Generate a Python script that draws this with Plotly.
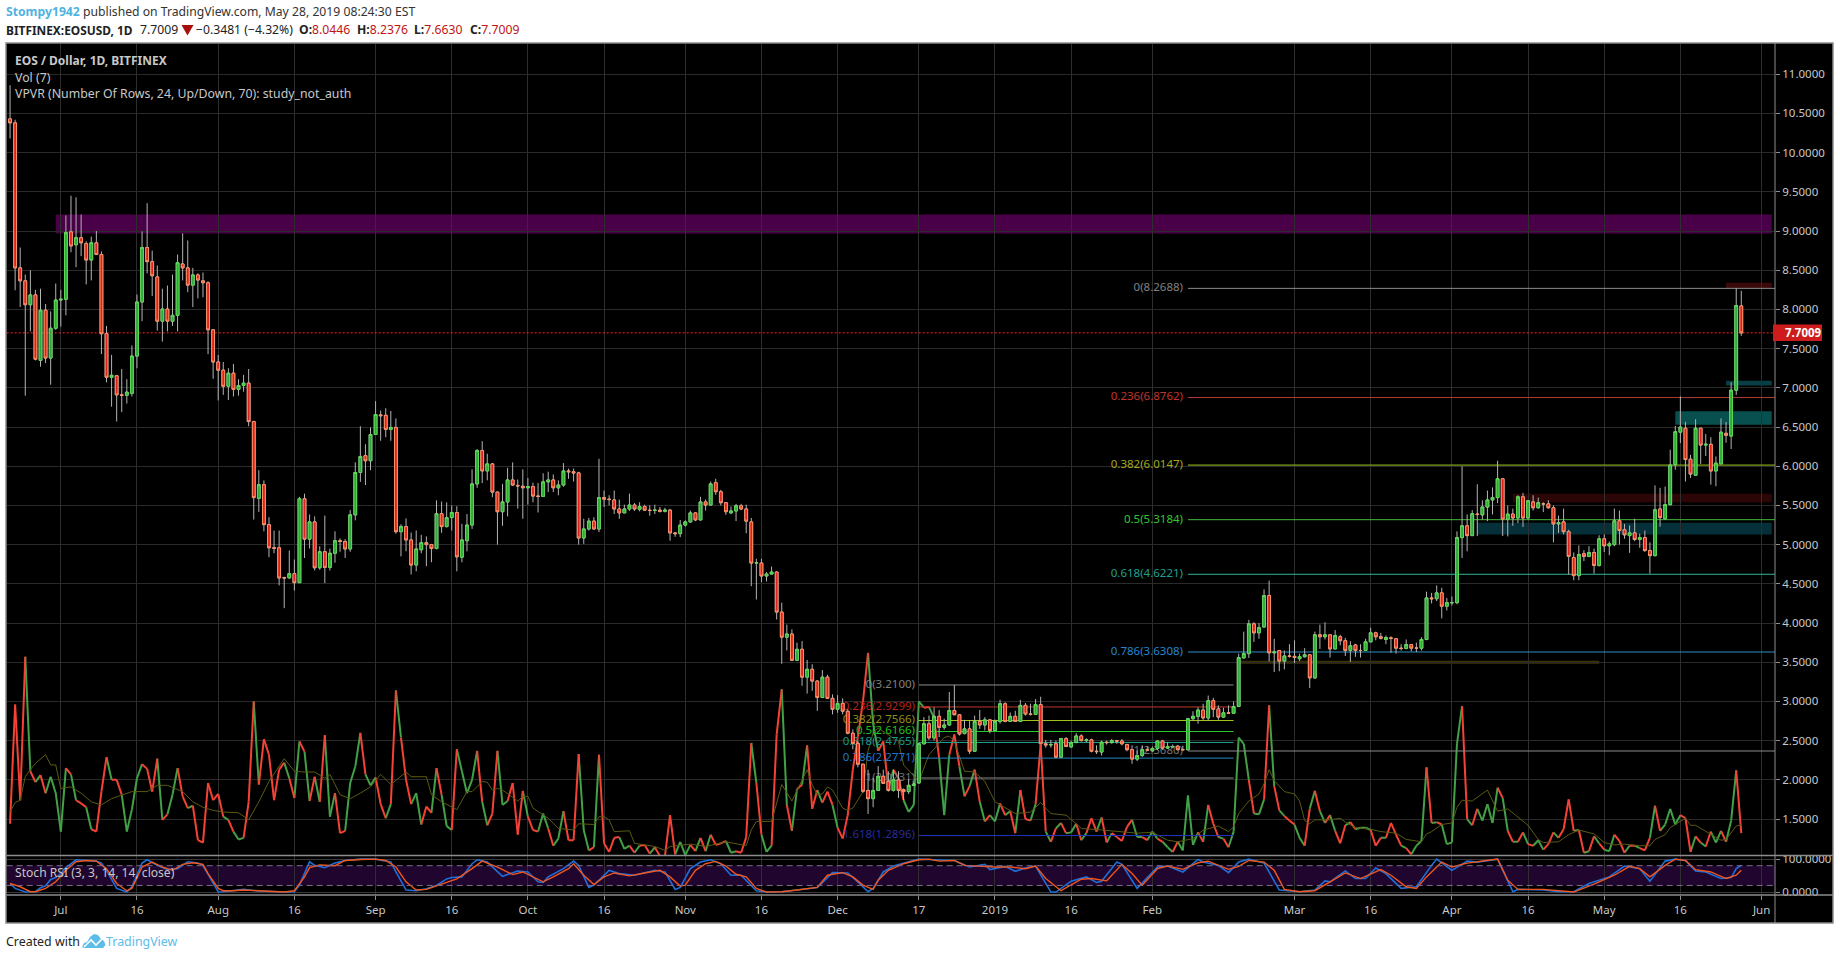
import pandas as pd
import plotly.graph_objects as go

# EOSUSD daily bars on Bitfinex, first bar 2018-06-21
first_bar = "2018-06-21"

opens = [
    10.43, 10.38, 8.53, 8.365, 8.06, 8.185, 7.35, 7.99, 7.38, 7.76,
    8.12, 8.13, 8.99, 8.825, 8.915, 8.84, 8.63, 8.85, 8.70, 7.69,
    7.135, 7.155, 6.91, 6.905, 6.93, 7.405, 8.095, 8.79, 8.61, 8.415,
    7.85, 8.005, 7.85, 7.925, 8.58, 8.53, 8.31, 8.44, 8.365, 8.34,
    7.74, 7.33, 7.225, 7.02, 7.187, 6.98, 7.03, 7.06, 6.57, 5.59,
    5.765, 5.255, 4.96, 4.96, 4.58, 4.575, 4.63, 4.515, 5.585, 5.07,
    5.29, 4.705, 4.91, 4.71, 4.89, 5.05, 5.04, 4.945, 5.38, 5.92,
    6.135, 6.07, 6.405, 6.655, 6.65, 6.47, 6.495, 5.165, 5.23, 5.06,
    4.74, 4.935, 5.025, 5.0, 4.95, 5.395, 5.23, 5.345, 5.41, 4.84,
    5.05, 5.25, 5.775, 6.2, 5.94, 6.03, 5.67, 5.42, 5.545, 5.825,
    5.755, 5.745, 5.725, 5.74, 5.62, 5.615, 5.80, 5.825, 5.725, 5.76,
    5.94, 5.93, 5.915, 5.085, 5.2, 5.3, 5.2, 5.6, 5.58, 5.57,
    5.455, 5.405, 5.455, 5.505, 5.45, 5.485, 5.44, 5.435, 5.44, 5.425,
    5.44, 5.15, 5.14, 5.25, 5.29, 5.405, 5.315, 5.545, 5.505, 5.79,
    5.675, 5.535, 5.405, 5.43, 5.495, 5.455, 5.29, 4.765, 4.765, 4.6,
    4.625, 4.65, 4.14, 3.82, 3.86, 3.525, 3.665, 3.31, 3.41, 3.26,
    3.05, 3.31, 3.04, 2.9, 2.975, 2.875, 2.595, 2.465, 2.2, 1.865,
    1.76, 1.865, 2.045, 1.98, 1.865, 2.0, 1.875, 1.85, 1.93, 1.96,
    2.46, 2.715, 2.535, 2.81, 2.67, 2.70, 2.885, 2.83, 2.59, 2.65,
    2.365, 2.745, 2.70, 2.765, 2.63, 2.745, 2.97, 2.745, 2.81, 2.745,
    2.95, 2.84, 2.835, 2.96, 2.46, 2.445, 2.46, 2.29, 2.525, 2.42,
    2.475, 2.56, 2.50, 2.51, 2.365, 2.355, 2.48, 2.475, 2.50, 2.495,
    2.45, 2.385, 2.265, 2.31, 2.385, 2.37, 2.40, 2.495, 2.405, 2.42,
    2.43, 2.385, 2.385, 2.78, 2.81, 2.89, 2.79, 3.01, 2.905, 2.80,
    2.855, 2.85, 2.935, 3.555, 3.61, 3.99, 3.875, 3.95, 4.35, 3.62,
    3.65, 3.515, 3.58, 3.575, 3.545, 3.57, 3.595, 3.30, 3.85, 3.825,
    3.85, 3.67, 3.825, 3.775, 3.65, 3.72, 3.65, 3.65, 3.76, 3.875,
    3.825, 3.79, 3.81, 3.80, 3.68, 3.675, 3.725, 3.68, 3.68, 3.79,
    4.32, 4.31, 4.385, 4.215, 4.26, 4.26, 5.09, 5.24, 5.115, 5.39,
    5.38, 5.48, 5.57, 5.6, 5.84, 5.325, 5.39, 5.34, 5.61, 5.34,
    5.545, 5.47, 5.52, 5.52, 5.47, 5.265, 5.29, 5.165, 4.835, 4.605,
    4.885, 4.85, 4.9, 4.735, 5.075, 4.985, 5.0, 5.305, 5.19, 5.115,
    5.15, 5.065, 5.09, 4.925, 4.86, 5.455, 5.33, 5.51, 6.02, 6.435,
    6.485, 6.09, 5.885, 6.485, 6.27, 6.28, 5.94, 6.03, 6.42, 6.385, 6.97, 8.0446,
]
highs = [
    10.86, 10.42, 8.79, 8.445, 8.5, 8.25, 8.265, 8.07, 7.975, 8.33,
    8.25, 9.2, 9.45, 9.43, 9.21, 8.87, 8.93, 9.0, 8.74, 7.79,
    7.42, 7.16, 7.24, 7.11, 7.54, 8.19, 8.995, 9.355, 8.75, 8.56,
    8.265, 8.305, 8.445, 8.70, 8.97, 8.88, 8.53, 8.46, 8.47, 8.36,
    7.75, 7.42, 7.33, 7.25, 7.305, 7.11, 7.165, 7.24, 6.58, 5.95,
    5.82, 5.35, 5.18, 5.18, 4.59, 4.925, 4.81, 5.61, 5.65, 5.385,
    5.36, 4.98, 5.37, 4.95, 5.17, 5.08, 5.07, 5.44, 6.05, 6.51,
    6.28, 6.495, 6.83, 6.71, 6.74, 6.705, 6.61, 5.26, 5.335, 5.155,
    5.18, 5.125, 5.105, 5.01, 5.565, 5.55, 5.54, 5.50, 5.49, 5.265,
    5.39, 5.96, 6.22, 6.32, 6.16, 6.04, 5.68, 5.775, 5.98, 6.05,
    5.83, 5.96, 5.85, 5.79, 5.785, 5.91, 5.93, 5.895, 5.82, 6.04,
    5.97, 5.97, 5.93, 5.33, 5.34, 5.35, 6.095, 5.69, 5.63, 5.69,
    5.575, 5.51, 5.65, 5.53, 5.54, 5.51, 5.5, 5.51, 5.48, 5.47,
    5.455, 5.16, 5.315, 5.31, 5.435, 5.41, 5.61, 5.575, 5.805, 5.84,
    5.70, 5.54, 5.485, 5.52, 5.52, 5.51, 5.34, 4.82, 4.82, 4.65,
    4.72, 4.66, 4.26, 3.98, 3.92, 3.75, 3.77, 3.53, 3.475, 3.27,
    3.4, 3.34, 3.09, 3.08, 3.04, 2.9, 2.645, 2.49, 2.2, 2.13,
    2.025, 2.175, 2.13, 2.11, 2.13, 2.11, 1.89, 2.01, 1.98, 2.47,
    2.80, 2.82, 2.925, 2.89, 2.78, 3.12, 3.21, 2.84, 2.765, 2.755,
    2.82, 2.89, 2.80, 2.77, 2.77, 3.02, 2.99, 2.86, 2.88, 3.02,
    2.98, 2.97, 3.03, 3.06, 2.51, 2.51, 2.50, 2.53, 2.545, 2.50,
    2.595, 2.58, 2.53, 2.525, 2.44, 2.50, 2.50, 2.52, 2.51, 2.52,
    2.46, 2.44, 2.375, 2.44, 2.425, 2.425, 2.50, 2.51, 2.48, 2.45,
    2.44, 2.435, 2.79, 2.875, 2.925, 2.97, 3.075, 3.045, 2.95, 2.92,
    2.95, 3.0, 3.61, 3.89, 4.04, 4.01, 4.0, 4.43, 4.54, 3.80,
    3.65, 3.65, 3.73, 3.78, 3.61, 3.68, 3.60, 3.89, 3.98, 4.01,
    3.85, 3.91, 3.85, 3.81, 3.77, 3.735, 3.73, 3.8, 3.94, 3.89,
    3.875, 3.84, 3.83, 3.80, 3.73, 3.79, 3.725, 3.75, 3.82, 4.40,
    4.385, 4.48, 4.45, 4.32, 4.34, 5.17, 6.0, 5.385, 5.44, 5.77,
    5.565, 5.69, 5.73, 6.07, 5.85, 5.5, 5.46, 5.63, 5.66, 5.57,
    5.63, 5.6, 5.54, 5.565, 5.5, 5.37, 5.46, 5.19, 4.9, 4.99,
    4.93, 4.98, 4.95, 5.12, 5.13, 5.04, 5.46, 5.435, 5.265, 5.245,
    5.33, 5.14, 5.18, 5.03, 5.755, 5.725, 5.74, 6.21, 6.515, 6.89,
    6.565, 6.145, 6.6, 6.49, 6.41, 6.37, 6.125, 6.61, 6.565, 7.07, 8.27, 8.2376,
]
lows = [
    10.18, 8.245, 8.03, 6.90, 7.72, 7.35, 7.27, 7.315, 7.04, 7.74,
    7.78, 7.925, 8.73, 8.54, 8.68, 8.32, 8.37, 8.7, 7.43, 7.07,
    6.76, 6.57, 6.69, 6.80, 6.89, 7.25, 7.85, 8.46, 8.17, 7.73,
    7.59, 7.72, 7.79, 7.72, 8.37, 8.22, 8.03, 8.14, 8.155, 7.43,
    7.115, 6.84, 6.91, 6.845, 6.89, 6.9, 6.95, 6.51, 5.32, 5.415,
    5.17, 4.84, 4.89, 4.48, 4.19, 4.57, 4.415, 4.51, 4.83, 4.95,
    4.67, 4.68, 4.51, 4.67, 4.77, 4.91, 4.83, 4.91, 5.31, 5.80,
    5.76, 5.95, 6.4, 6.325, 6.37, 6.325, 5.14, 4.85, 4.915, 4.62,
    4.66, 4.89, 4.725, 4.775, 4.94, 5.15, 5.22, 5.18, 4.66, 4.775,
    4.915, 5.2, 5.725, 5.785, 5.82, 5.605, 5.0, 5.24, 5.36, 5.75,
    5.46, 5.33, 5.51, 5.54, 5.41, 5.61, 5.67, 5.67, 5.63, 5.74,
    5.84, 5.805, 5.0, 5.01, 5.18, 5.19, 5.16, 5.48, 5.5, 5.39,
    5.33, 5.40, 5.43, 5.43, 5.425, 5.43, 5.37, 5.39, 5.41, 5.41,
    5.05, 5.1, 5.095, 5.23, 5.28, 5.30, 5.31, 5.435, 5.50, 5.635,
    5.5, 5.38, 5.39, 5.3, 5.44, 5.145, 4.47, 4.30, 4.52, 4.53,
    4.62, 4.045, 3.48, 3.65, 3.52, 3.52, 3.20, 3.1, 3.135, 2.88,
    3.05, 3.04, 2.835, 2.855, 2.835, 2.58, 2.39, 2.16, 1.835, 1.565,
    1.65, 1.865, 1.95, 1.85, 1.85, 1.77, 1.74, 1.82, 1.92, 1.95,
    2.45, 2.51, 2.50, 2.545, 2.64, 2.69, 2.83, 2.565, 2.58, 2.33,
    2.36, 2.65, 2.63, 2.595, 2.62, 2.715, 2.735, 2.745, 2.745, 2.735,
    2.82, 2.82, 2.83, 2.46, 2.41, 2.41, 2.28, 2.28, 2.425, 2.41,
    2.47, 2.49, 2.48, 2.35, 2.33, 2.31, 2.45, 2.46, 2.46, 2.44,
    2.365, 2.205, 2.24, 2.29, 2.375, 2.355, 2.38, 2.385, 2.395, 2.41,
    2.375, 2.375, 2.375, 2.755, 2.715, 2.765, 2.75, 2.80, 2.765, 2.79,
    2.84, 2.84, 2.93, 3.55, 3.555, 3.76, 3.80, 3.94, 3.51, 3.375,
    3.385, 3.41, 3.56, 3.49, 3.515, 3.56, 3.17, 3.29, 3.67, 3.79,
    3.56, 3.665, 3.715, 3.58, 3.505, 3.57, 3.56, 3.645, 3.76, 3.78,
    3.79, 3.73, 3.62, 3.61, 3.65, 3.665, 3.64, 3.63, 3.65, 3.78,
    4.25, 4.28, 4.06, 4.16, 4.225, 4.24, 4.83, 4.915, 5.11, 5.11,
    5.32, 5.30, 5.385, 5.53, 5.11, 5.105, 5.24, 5.275, 5.225, 5.32,
    5.435, 5.46, 5.415, 5.46, 5.03, 5.15, 5.13, 4.62, 4.545, 4.545,
    4.79, 4.84, 4.63, 4.72, 4.905, 4.865, 4.98, 5.0, 5.075, 4.895,
    5.045, 4.96, 4.905, 4.63, 4.85, 5.23, 5.32, 5.5, 5.955, 6.295,
    5.805, 5.85, 5.88, 6.03, 6.13, 5.765, 5.745, 6.03, 6.3, 6.22, 6.91, 7.663,
]
closes = [
    10.38, 8.53, 8.365, 8.06, 8.185, 7.365, 7.99, 7.38, 7.76, 8.12,
    8.13, 8.98, 8.81, 8.915, 8.85, 8.63, 8.85, 8.70, 7.69, 7.135,
    7.16, 6.91, 6.905, 6.945, 7.405, 8.095, 8.79, 8.61, 8.43, 7.85,
    8.005, 7.85, 7.925, 8.595, 8.53, 8.31, 8.44, 8.375, 8.34, 7.74,
    7.33, 7.225, 7.02, 7.187, 6.98, 7.03, 7.06, 6.57, 5.6, 5.765,
    5.255, 4.96, 4.955, 4.575, 4.575, 4.63, 4.515, 5.585, 5.07, 5.29,
    4.705, 4.91, 4.71, 4.89, 5.05, 5.04, 4.945, 5.38, 5.92, 6.125,
    6.07, 6.405, 6.66, 6.645, 6.47, 6.495, 5.165, 5.23, 5.06, 4.74,
    4.945, 5.025, 5.0, 4.95, 5.395, 5.23, 5.345, 5.41, 4.845, 5.06,
    5.25, 5.775, 6.2, 5.94, 6.03, 5.67, 5.42, 5.545, 5.825, 5.76,
    5.75, 5.725, 5.74, 5.62, 5.615, 5.80, 5.825, 5.725, 5.76, 5.94,
    5.93, 5.915, 5.085, 5.2, 5.3, 5.2, 5.6, 5.58, 5.575, 5.455,
    5.405, 5.455, 5.505, 5.455, 5.485, 5.44, 5.435, 5.44, 5.425, 5.44,
    5.15, 5.14, 5.25, 5.29, 5.405, 5.315, 5.545, 5.505, 5.775, 5.675,
    5.535, 5.42, 5.43, 5.495, 5.455, 5.3, 4.765, 4.77, 4.6, 4.625,
    4.65, 4.14, 3.82, 3.86, 3.525, 3.665, 3.31, 3.41, 3.26, 3.05,
    3.31, 3.04, 2.9, 2.975, 2.875, 2.595, 2.465, 2.2, 1.855, 1.76,
    1.865, 2.045, 1.955, 1.865, 2.0, 1.865, 1.85, 1.93, 1.945, 2.46,
    2.715, 2.535, 2.81, 2.67, 2.70, 2.885, 2.83, 2.585, 2.65, 2.365,
    2.745, 2.70, 2.765, 2.63, 2.745, 2.97, 2.745, 2.81, 2.745, 2.95,
    2.84, 2.835, 2.96, 2.46, 2.445, 2.45, 2.29, 2.525, 2.425, 2.475,
    2.56, 2.50, 2.51, 2.365, 2.36, 2.48, 2.475, 2.50, 2.495, 2.46,
    2.385, 2.265, 2.31, 2.385, 2.38, 2.40, 2.495, 2.405, 2.42, 2.425,
    2.385, 2.385, 2.78, 2.81, 2.89, 2.79, 3.01, 2.90, 2.80, 2.855,
    2.85, 2.935, 3.56, 3.61, 3.99, 3.875, 3.94, 4.35, 3.62, 3.63,
    3.515, 3.58, 3.575, 3.56, 3.57, 3.595, 3.30, 3.85, 3.825, 3.85,
    3.67, 3.84, 3.775, 3.65, 3.71, 3.65, 3.65, 3.76, 3.875, 3.825,
    3.805, 3.815, 3.805, 3.68, 3.675, 3.725, 3.68, 3.68, 3.79, 4.32,
    4.31, 4.385, 4.215, 4.26, 4.26, 5.09, 5.24, 5.115, 5.395, 5.385,
    5.48, 5.57, 5.6, 5.84, 5.325, 5.39, 5.34, 5.61, 5.34, 5.56,
    5.47, 5.535, 5.52, 5.47, 5.265, 5.28, 5.165, 4.85, 4.605, 4.875,
    4.85, 4.9, 4.735, 5.075, 4.985, 5.01, 5.305, 5.18, 5.125, 5.15,
    5.065, 5.09, 4.925, 4.86, 5.445, 5.345, 5.51, 6.015, 6.44, 6.5,
    6.085, 5.9, 6.485, 6.27, 6.28, 5.94, 6.04, 6.435, 6.395, 6.97, 8.05, 7.7009,
]

# Volume, read against the price scale it shares the pane with
volume_level = [
    1.44, 2.96, 1.74, 3.57, 2.11, 1.97, 2.06, 1.83, 2.04, 1.83,
    1.34, 2.15, 2.07, 1.74, 1.70, 1.65, 1.37, 1.34, 1.85, 2.29,
    2.0, 2.0, 1.81, 1.34, 1.62, 2.02, 2.2, 2.14, 1.85, 2.27,
    1.49, 1.56, 1.81, 2.15, 1.79, 1.64, 1.67, 1.23, 1.2, 1.96,
    1.74, 1.82, 1.53, 1.49, 1.34, 1.24, 1.26, 1.72, 3.0, 1.94,
    2.52, 2.32, 1.74, 2.13, 2.22, 2.02, 1.77, 2.49, 2.36, 1.73,
    2.04, 1.72, 2.57, 1.53, 1.83, 1.32, 1.35, 1.96, 2.17, 2.6,
    2.07, 1.93, 2.03, 1.69, 1.51, 1.69, 3.14, 2.54, 2.0, 1.69,
    1.83, 1.43, 1.66, 1.58, 2.15, 1.81, 1.41, 1.36, 2.39, 2.11,
    1.83, 2.0, 2.37, 1.72, 1.42, 1.57, 2.37, 1.68, 1.73, 1.96,
    1.30, 1.86, 1.53, 1.36, 1.34, 1.57, 1.38, 1.16, 1.25, 1.60,
    1.23, 1.23, 2.33, 1.36, 1.10, 1.14, 2.32, 1.19, 1.08, 1.26,
    1.27, 1.12, 1.16, 1.07, 1.16, 1.17, 1.06, 1.14, 1.03, 1.03,
    1.55, 1.05, 1.21, 1.04, 1.17, 1.09, 1.26, 1.09, 1.30, 1.17,
    1.19, 1.22, 1.07, 1.09, 1.07, 1.27, 2.47, 1.96, 1.30, 1.08,
    1.16, 2.58, 3.155, 1.68, 1.35, 1.88, 1.94, 2.44, 1.63, 1.87,
    1.71, 1.85, 1.68, 1.39, 1.25, 1.55, 2.13, 2.55, 3.0, 3.62,
    2.71, 2.37, 2.49, 1.89, 2.13, 2.02, 1.74, 1.59, 1.68, 3.0,
    2.92, 2.93, 2.79, 2.28, 1.55, 2.32, 2.58, 2.17, 1.79, 1.92,
    2.13, 1.72, 1.47, 1.55, 1.47, 1.70, 1.55, 1.60, 1.32, 1.87,
    1.50, 1.48, 1.69, 2.45, 1.34, 1.21, 1.38, 1.45, 1.32, 1.33,
    1.44, 1.23, 1.32, 1.51, 1.34, 1.52, 1.20, 1.32, 1.27, 1.22,
    1.40, 1.49, 1.27, 1.27, 1.23, 1.34, 1.25, 1.21, 1.14, 1.08,
    1.21, 1.10, 1.80, 1.17, 1.33, 1.21, 1.68, 1.44, 1.27, 1.25,
    1.14, 1.34, 2.54, 2.46, 2.0, 1.57, 1.56, 1.75, 2.95, 1.92,
    1.61, 1.54, 1.48, 1.43, 1.26, 1.16, 1.63, 1.86, 1.60, 1.45,
    1.55, 1.35, 1.19, 1.42, 1.46, 1.37, 1.39, 1.39, 1.36, 1.16,
    1.26, 1.26, 1.45, 1.30, 1.16, 1.13, 1.05, 1.16, 1.22, 2.16,
    1.45, 1.46, 1.43, 1.18, 1.20, 2.46, 2.94, 1.50, 1.42, 1.63,
    1.48, 1.69, 1.45, 1.90, 1.77, 1.35, 1.21, 1.21, 1.33, 1.18,
    1.16, 1.23, 1.11, 1.18, 1.33, 1.26, 1.37, 1.75, 1.35, 1.36,
    1.07, 1.09, 1.28, 1.19, 1.11, 1.09, 1.30, 1.22, 1.07, 1.16,
    1.16, 1.13, 1.10, 1.26, 1.67, 1.35, 1.43, 1.63, 1.43, 1.55,
    1.51, 1.08, 1.28, 1.20, 1.15, 1.34, 1.20, 1.35, 1.21, 1.48, 2.12, 1.32,
]

# Volume average, sampled at the bars listed in volume_avg_bars
volume_avg_bars = [
    0, 1, 2, 3, 4, 5, 7, 8, 9, 10, 12, 14, 16, 18, 20, 22, 24, 27, 29, 31, 34, 36, 38, 40, 42, 45, 47, 49,
    51, 54, 56, 58, 60, 62, 63, 65, 67, 69, 71, 73, 75, 78, 79, 82, 83, 85, 88, 90, 91, 93, 94, 95, 96, 97,
    100, 101, 102, 103, 105, 106, 108, 111, 112, 115, 116, 117, 118, 119, 122, 123, 125, 127, 129, 130, 134,
    137, 141, 145, 146, 147, 150, 152, 154, 157, 158, 159, 160, 161, 162, 164, 165, 166, 168, 169, 170, 171,
    175, 176, 179, 181, 184, 185, 186, 188, 190, 192, 194, 195, 198, 201, 203, 205, 208, 210, 211, 215, 219,
    222, 225, 228, 230, 233, 235, 238, 240, 241, 242, 244, 246, 247, 248, 249, 251, 253, 254, 255, 256, 257,
    260, 262, 263, 265, 268, 270, 273, 275, 278, 279, 280, 282, 284, 285, 286, 288, 291, 293, 295, 297, 299,
    301, 302, 305, 307, 309, 312, 314, 316, 318, 321, 323, 324, 326, 327, 330, 331, 332, 335, 337, 338, 340, 341,
]
volume_avg = [
    1.59, 1.71, 1.74, 2.04, 2.13, 2.21, 2.32, 2.19, 2.19, 1.89, 1.91, 1.83, 1.72, 1.68, 1.76, 1.81, 1.85, 1.85, 1.93, 1.93, 1.85, 1.72, 1.65, 1.61, 1.59, 1.58, 1.49, 1.72,
    1.98, 2.27, 2.11, 2.10, 2.10, 2.02, 2.07, 1.81, 1.76, 1.83, 1.91, 2.07, 1.94, 2.10, 2.04, 2.04, 1.81, 1.72, 1.62, 1.85, 1.85, 1.98, 1.97, 1.87, 1.89, 1.87,
    1.73, 1.79, 1.79, 1.64, 1.55, 1.51, 1.38, 1.36, 1.44, 1.43, 1.53, 1.53, 1.49, 1.34, 1.35, 1.19, 1.17, 1.15, 1.10, 1.15, 1.18,
    1.15, 1.21, 1.16, 1.36, 1.47, 1.47, 1.94, 1.73, 2.13, 1.94, 1.81, 1.82, 1.91, 1.87, 1.64, 1.61, 1.64, 1.85, 2.37, 2.60, 2.66,
    2.49, 2.19, 1.98, 2.32, 2.54, 2.56, 2.49, 2.11, 2.10, 1.98, 1.72, 1.68, 1.57, 1.59, 1.71, 1.57, 1.55, 1.44, 1.38, 1.36, 1.34,
    1.32, 1.33, 1.23, 1.21, 1.25, 1.36, 1.41, 1.34, 1.40, 1.57, 1.73, 1.82, 1.95, 2.13, 1.99, 1.85, 1.82, 1.73, 1.48, 1.44, 1.49,
    1.49, 1.51, 1.46, 1.39, 1.37, 1.34, 1.32, 1.24, 1.21, 1.31, 1.34, 1.43, 1.45, 1.65, 1.74, 1.73, 1.87, 1.60, 1.63, 1.52, 1.42,
    1.24, 1.20, 1.21, 1.30, 1.36, 1.31, 1.20, 1.17, 1.18, 1.16, 1.16, 1.24, 1.30, 1.39, 1.51, 1.42, 1.42, 1.30, 1.23, 1.24, 1.41, 1.43,
]

# Stochastic RSI, sampled at the listed bars
stoch_k_bars = [
    0, 1, 3, 4, 5, 6, 7, 8, 9, 10, 11, 13, 15, 17, 18, 19, 21, 23, 24, 26, 27, 29, 31, 33, 35, 37, 38, 41, 42, 44, 46, 49, 52, 54, 56, 57, 59, 60, 62, 64, 66, 69, 72, 75, 76, 78, 80, 82, 84, 86, 87,
    89, 91, 92, 94, 97, 100, 102, 104, 105, 106, 109, 111, 112, 114, 115, 118, 120, 123, 127, 129, 131, 132, 134, 136, 138, 140, 142, 144, 147, 149, 152, 155, 159, 162, 165, 167, 169, 170, 172, 174, 177,
    179, 182, 186, 189, 192, 193, 196, 198, 200, 202, 205, 206, 209, 212, 214, 215, 218, 219, 222, 226, 228, 231, 234, 235, 238, 240,
    242, 244, 247, 250, 254, 257, 259, 260, 263, 265, 267, 269, 271, 274, 277, 280, 281, 284, 287, 289, 293, 296, 297, 302, 305, 308, 311, 315, 318, 321, 323, 326, 328, 330, 332, 334, 337, 339, 340, 341,
]
stoch_k = [
    26, 11, 0, 1, 1, 13, 19, 38, 44, 56, 74, 98, 96, 94, 88, 66, 11, 0, 16, 88, 98, 81, 68, 71, 92, 88, 81, 0, 1, 4, 8, 3, 0, 0, 1, 21, 92, 81, 74, 88, 96, 100, 100, 91, 61, 6, 4, 10, 20, 40, 44,
    46, 86, 98, 91, 48, 64, 61, 31, 29, 46, 71, 94, 81, 14, 21, 66, 56, 51, 66, 61, 8, 14, 71, 91, 98, 86, 51, 51, 4, 0, 1, 6, 14, 59, 58, 31, 1, 11, 61, 79, 93,
    100, 98, 96, 76, 84, 68, 78, 63, 73, 79, 0, 0, 33, 46, 29, 33, 91, 84, 11, 76, 79, 61, 99, 91, 81, 59,
    91, 100, 88, 6, 1, 6, 34, 31, 64, 41, 41, 73, 56, 11, 16, 81, 100, 66, 94, 91, 100, 1, 8, 6, 1, 1, 26, 46, 79, 71, 33, 94, 100, 96, 64, 61, 41, 44, 71, 81,
]
stoch_d_bars = [
    0, 2, 4, 5, 7, 9, 11, 13, 15, 17, 19, 21, 23, 24, 26, 28, 30, 32, 34, 36, 38, 39, 41, 42, 44, 46, 49, 54, 56, 58, 59, 61, 64, 66, 69, 72, 74, 76, 78, 80, 82, 85, 88,
    91, 93, 96, 99, 101, 103, 105, 107, 110, 111, 113, 115, 117, 119, 122, 125, 128, 130, 132, 133, 135, 137, 139, 141, 143, 145, 147, 149, 152, 155, 159, 161, 164, 166, 168, 170, 171, 173, 176, 179,
    181, 183, 186, 188, 191, 194, 197, 200, 202, 204, 207, 211, 213, 216, 219, 221, 223, 226, 228, 231, 234, 236, 240,
    242, 244, 247, 249, 251, 254, 257, 260, 263, 266, 270, 272, 275, 277, 279, 282, 284, 287, 290, 293, 295, 297, 302, 308, 312, 316, 319, 321, 323, 326, 328, 330, 332, 335, 338, 340, 341,
]
stoch_d = [
    26, 16, 1, 1, 11, 31, 66, 92, 96, 94, 71, 26, 4, 11, 76, 91, 76, 66, 84, 89, 84, 56, 11, 4, 4, 6, 4, 0, 4, 46, 74, 82, 80, 96, 99, 100, 96, 76, 31, 6, 8, 24, 40,
    71, 94, 76, 53, 61, 46, 31, 46, 71, 86, 51, 23, 46, 58, 49, 58, 66, 46, 18, 21, 66, 86, 93, 79, 54, 46, 11, 0, 1, 6, 14, 51, 59, 46, 21, 8, 36, 66, 86, 98,
    100, 94, 96, 81, 78, 76, 76, 71, 79, 41, 4, 39, 41, 34, 84, 56, 21, 71, 79, 69, 89, 94, 69,
    78, 96, 91, 66, 8, 1, 4, 31, 58, 41, 68, 51, 16, 11, 46, 91, 76, 88, 94, 100, 36, 8, 8, 0, 24, 51, 78, 71, 46, 81, 100, 96, 68, 61, 41, 51, 66,
]

# Fibonacci retracements: ratio, level, line colour, label colour
fib_major_start = "2019-02-08"
fib_major_ratios = ["0", "0.236", "0.382", "0.5", "0.618", "0.786", "1"]
fib_major_levels = [8.2688, 6.8762, 6.0147, 5.3184, 4.6221, 3.6308, 2.3680]
fib_major_lines = ["#8c8c8c", "#b03a30", "#a0c81e", "#44b93c", "#2fb79a", "#2f8fc4", "#8c8c8c"]
fib_major_text = ["#808080", "#c0352b", "#a4a81e", "#32c832", "#1fa08e", "#2486d0", "#707070"]

fib_minor_start = "2018-12-17"
fib_minor_end = "2019-02-17"
fib_minor_ratios = ["0", "0.236", "0.382", "0.5", "0.618", "0.786", "1", "1.618"]
fib_minor_levels = [3.2100, 2.9299, 2.7566, 2.6166, 2.4765, 2.2771, 2.0231, 1.2896]
fib_minor_lines = ["#8c8c8c", "#c0352b", "#a4c81e", "#28c828", "#1fa08e", "#2486c0", "#8c8c8c", "#2233c0"]
fib_minor_text = ["#808080", "#b5261e", "#8f8f1e", "#22c022", "#159a8c", "#1f77c8", "#707070", "#2a2a9a"]

# Horizontal price zones: start, end, bottom, top, fill
zone_starts = ["2018-06-30", "2019-05-25", "2019-04-13", "2019-04-06", "2019-05-15", "2019-05-25", "2019-02-18"]
zone_ends = ["2019-06-03", "2019-06-03", "2019-06-03", "2019-06-03", "2019-06-03", "2019-06-03", "2019-04-30"]
zone_lows = [8.97, 8.27, 5.54, 5.13, 6.53, 7.03, 3.48]
zone_highs = [9.21, 8.34, 5.65, 5.28, 6.70, 7.09, 3.52]
zone_fills = ["#4a0048", "#3a0a0a", "#2c0606", "#05303a", "#07504f", "#083f45", "#3a3306"]

price_ticks = [1.5 + 0.5 * n for n in range(20)]
last_close = 7.7009
stoch_ticks = [0, 100]
stoch_band = [20, 80]

date_ticks = ["2018-07-01", "2018-07-16", "2018-08-01", "2018-08-16", "2018-09-01", "2018-09-16",
              "2018-10-01", "2018-10-16", "2018-11-01", "2018-11-16", "2018-12-01", "2018-12-17",
              "2019-01-01", "2019-01-16", "2019-02-01", "2019-03-01", "2019-03-16", "2019-04-01",
              "2019-04-16", "2019-05-01", "2019-05-16", "2019-06-01"]
date_labels = ["Jul", "16", "Aug", "16", "Sep", "16", "Oct", "16", "Nov", "16", "Dec", "17",
               "2019", "16", "Feb", "Mar", "16", "Apr", "16", "May", "16", "Jun"]

WIDTH, HEIGHT = 1840, 959
FONT = "Noto Sans"
TEXT_GREY = "#c8c8c8"
UP_FILL, UP_EDGE = "#2fa83c", "#5cdc52"
DOWN_FILL, DOWN_EDGE = "#e0201a", "#ff9468"
VOL_UP, VOL_DOWN = "#43a047", "#f44336"

bars = pd.date_range(first_bar, periods=len(opens), freq="D")
x_range = ["2018-06-20 08:10", "2019-06-03 15:20"]
x_domain = [6.7 / WIDTH, 1775 / WIDTH]
price_range = [1.035, 11.392]
stoch_range = [-9, 111]


def paper_x(px):
    return px / WIDTH


def paper_y(py):
    return 1 - py / HEIGHT


fig = go.Figure()

# Volume line: each segment takes the direction of the bar it arrives at
for colour, is_up in ((VOL_UP, True), (VOL_DOWN, False)):
    seg_x, seg_y = [], []
    for i in range(1, len(volume_level)):
        if (closes[i] >= opens[i]) == is_up:
            seg_x += [bars[i - 1], bars[i], None]
            seg_y += [volume_level[i - 1], volume_level[i], None]
    fig.add_trace(go.Scatter(x=seg_x, y=seg_y, mode="lines", hoverinfo="skip",
                             line=dict(color=colour, width=2), xaxis="x", yaxis="y"))

fig.add_trace(go.Scatter(x=[bars[i] for i in volume_avg_bars], y=volume_avg, mode="lines", hoverinfo="skip",
                         line=dict(color="#5c5a12", width=1), xaxis="x", yaxis="y"))

# Fibonacci levels and their labels sit underneath the candles
for ratio, level, line, text in zip(fib_major_ratios, fib_major_levels, fib_major_lines, fib_major_text):
    fig.add_trace(go.Scatter(x=[fib_major_start, x_range[1]], y=[level, level], mode="lines", hoverinfo="skip",
                             line=dict(color=line, width=1), xaxis="x", yaxis="y"))
    fig.add_trace(go.Scatter(x=["2019-02-07 01:00"], y=[level], mode="text", text=[f"{ratio}({level:.4f})"],
                             textposition="middle left", hoverinfo="skip",
                             textfont=dict(color=text, family=FONT, size=11.5), xaxis="x", yaxis="y"))
for ratio, level, line, text in zip(fib_minor_ratios, fib_minor_levels, fib_minor_lines, fib_minor_text):
    fig.add_trace(go.Scatter(x=[fib_minor_start, fib_minor_end], y=[level, level], mode="lines", hoverinfo="skip",
                             line=dict(color=line, width=1), xaxis="x", yaxis="y"))
    fig.add_trace(go.Scatter(x=["2018-12-16 06:00"], y=[level], mode="text", text=[f"{ratio}({level:.4f})"],
                             textposition="middle left", hoverinfo="skip",
                             textfont=dict(color=text, family=FONT, size=11.5), xaxis="x", yaxis="y"))

# Last-close marker line
fig.add_trace(go.Scatter(x=x_range, y=[last_close, last_close], mode="lines", hoverinfo="skip",
                         line=dict(color="#ff2020", width=1, dash="2px,2px"), xaxis="x", yaxis="y"))

# Candles go on an overlaid subplot: grey wicks first, coloured bodies over them
wick = dict(line=dict(color="#b4b4b4", width=1), fillcolor="#b4b4b4")
fig.add_trace(go.Candlestick(x=bars, open=opens, high=highs, low=lows, close=closes,
                             increasing=wick, decreasing=wick, hoverinfo="skip",
                             xaxis="x2", yaxis="y2"))
body_top = [max(o, c) for o, c in zip(opens, closes)]
body_bottom = [min(o, c) for o, c in zip(opens, closes)]
fig.add_trace(go.Candlestick(x=bars, open=opens, high=body_top, low=body_bottom, close=closes,
                             increasing=dict(line=dict(color=UP_EDGE, width=0.9), fillcolor=UP_FILL),
                             decreasing=dict(line=dict(color=DOWN_EDGE, width=0.9), fillcolor=DOWN_FILL),
                             hoverinfo="skip", xaxis="x2", yaxis="y2"))

# Stochastic RSI pane
fig.add_trace(go.Scatter(x=[bars[i] for i in stoch_k_bars], y=stoch_k, mode="lines", hoverinfo="skip",
                         line=dict(color="#1e6fd9", width=1.6), xaxis="x", yaxis="y3"))
fig.add_trace(go.Scatter(x=[bars[i] for i in stoch_d_bars], y=stoch_d, mode="lines", hoverinfo="skip",
                         line=dict(color="#f0561d", width=1.4), xaxis="x", yaxis="y3"))

shapes = [
    # chart frame
    dict(type="rect", xref="paper", yref="paper", layer="below", x0=paper_x(6), x1=paper_x(1833),
         y0=paper_y(923), y1=paper_y(43), fillcolor="#000000", line=dict(color="#8c8c8c", width=1.5)),
    # pane separators and the price-axis rule
    dict(type="line", xref="paper", yref="paper", x0=paper_x(6.7), x1=paper_x(1833), y0=paper_y(855.5), y1=paper_y(855.5),
         line=dict(color="#8c8c8c", width=1.5)),
    dict(type="line", xref="paper", yref="paper", x0=paper_x(6.7), x1=paper_x(1833), y0=paper_y(895), y1=paper_y(895),
         line=dict(color="#8c8c8c", width=1.5)),
    dict(type="line", xref="paper", yref="paper", x0=paper_x(1775), x1=paper_x(1775), y0=paper_y(923), y1=paper_y(43),
         line=dict(color="#8c8c8c", width=1)),
    # last-close tag
    dict(type="rect", xref="paper", yref="paper", x0=paper_x(1773), x1=paper_x(1822), y0=paper_y(341), y1=paper_y(324.5),
         fillcolor="#cc1c1c", line=dict(width=0)),
    # stochastic band
    dict(type="rect", xref="x", yref="y3", layer="below", x0=x_range[0], x1=x_range[1], y0=stoch_band[0], y1=stoch_band[1],
         fillcolor="#20052e", line=dict(width=0)),
]
for level in stoch_band:
    shapes.append(dict(type="line", xref="x", yref="y3", x0=x_range[0], x1=x_range[1], y0=level, y1=level,
                       line=dict(color="#7d6c8c", width=1, dash="6px,4px")))
for start, end, low, high, fill in zip(zone_starts, zone_ends, zone_lows, zone_highs, zone_fills):
    shapes.append(dict(type="rect", xref="x", yref="y", layer="below", x0=start, x1=end, y0=low, y1=high,
                       fillcolor=fill, line=dict(width=0)))

# Down-triangle in the quote line
triangle = [(181.5, 25), (193.5, 25), (187.5, 35.5)]
tri_path = "M " + " L ".join(f"{paper_x(x):.5f},{paper_y(y):.5f}" for x, y in triangle) + " Z"
shapes.append(dict(type="path", xref="paper", yref="paper", path=tri_path, fillcolor="#a81010", line=dict(width=0)))

# TradingView mark in the footer
logo_cloud = [(82, 947), (84, 943), (87, 942), (90, 937), (94, 934), (98, 935), (101, 939), (104, 941), (105.5, 945), (103, 948), (84, 948)]
logo_path = "M " + " L ".join(f"{paper_x(x):.5f},{paper_y(y):.5f}" for x, y in logo_cloud) + " Z"
logo_mark = [(84, 947), (91, 940), (96, 945), (103, 938)]
logo_line = "M " + " L ".join(f"{paper_x(x):.5f},{paper_y(y):.5f}" for x, y in logo_mark)
shapes.append(dict(type="path", xref="paper", yref="paper", path=logo_path, fillcolor="#5bbde8", line=dict(width=0)))
shapes.append(dict(type="path", xref="paper", yref="paper", path=logo_line, line=dict(color="#ffffff", width=1.6)))


def note(px, py, text, color="#333333", size=13, family=FONT, **extra):
    return dict(xref="paper", yref="paper", x=paper_x(px), y=paper_y(py), text=text, showarrow=False,
                xanchor="left", yanchor="middle", align="left", borderpad=0,
                font=dict(color=color, size=size, family=family), **extra)


RED = "#c01414"
QUOTE = "#222222"


def quote_field(px, label, value):
    return note(px, 29.5, f'<b>{label}</b><span style="color:{RED}">{value}</span>', color=QUOTE, size=12.2)


annotations = [
    note(5, 12, '<b><span style="color:#4fb3e0">Stompy1942</span></b> published on TradingView.com, May 28, 2019 08:24:30 EST', size=12.2),
    note(5, 29.5, "<b>BITFINEX:EOSUSD, 1D</b>", color=QUOTE, size=11.9),
    note(139, 29.5, "7.7009", color=QUOTE, size=12.2),
    note(195, 29.5, "−0.3481 (−4.32%)", color=QUOTE, size=12.2),
    quote_field(298, "O:", "8.0446"),
    quote_field(355.5, "H:", "8.2376"),
    quote_field(412.5, "L:", "7.6630"),
    quote_field(469, "C:", "7.7009"),
    note(14, 60, "<b>EOS / Dollar, 1D, BITFINEX</b>", color=TEXT_GREY, size=12),
    note(14, 77, "Vol (7)", color=TEXT_GREY, size=12.3),
    note(14, 94, "VPVR (Number Of Rows, 24, Up/Down, 70): study_not_auth", color=TEXT_GREY, size=12.3),
    note(14, 872, "Stoch RSI (3, 3, 14, 14, close)", color=TEXT_GREY, size=12.1),
    note(5, 941.5, "Created with", color="#222222", size=12.4),
    note(105, 941.5, "TradingView", color="#5bbde8", size=12.4),
    note(1784, 332.7, "<b>7.7009</b>", color="#ffffff", size=11.5),
]

axis_font = dict(color=TEXT_GREY, size=11.5, family=FONT)
grid = "#2a2a2a"

fig.update_layout(
    width=WIDTH, height=HEIGHT, autosize=False,
    margin=dict(l=0, r=0, t=0, b=0, pad=0, autoexpand=False),
    paper_bgcolor="#ffffff", plot_bgcolor="#000000",
    showlegend=False, hovermode=False, dragmode=False,
    boxgap=0.22,
    shapes=shapes, annotations=annotations,
    xaxis=dict(type="date", domain=x_domain, range=x_range, anchor="y3",
               tickmode="array", tickvals=date_ticks, ticktext=date_labels,
               showgrid=True, gridcolor="#2e2e2e", gridwidth=1, zeroline=False,
               ticks="outside", ticklen=4, tickcolor="#8c8c8c", tickfont=axis_font,
               rangeslider=dict(visible=False), showline=False),
    xaxis2=dict(type="date", domain=x_domain, range=x_range, overlaying="x", anchor="y2", visible=False,
                rangeslider=dict(visible=False)),
    yaxis=dict(domain=[paper_y(855.5), paper_y(43.5)], range=price_range, side="right", anchor="x",
               tickmode="array", tickvals=price_ticks, ticktext=[f"{v:.4f}" for v in price_ticks],
               showgrid=True, gridcolor=grid, gridwidth=1, zeroline=False,
               ticks="outside", ticklen=4, tickcolor="#8c8c8c", tickfont=axis_font, showline=False),
    yaxis2=dict(domain=[paper_y(855.5), paper_y(43.5)], range=price_range, overlaying="y", anchor="x2", visible=False),
    yaxis3=dict(domain=[paper_y(895), paper_y(855.5)], range=stoch_range, side="right", anchor="x",
                tickmode="array", tickvals=stoch_ticks, ticktext=["0.0000", "100.0000"],
                showgrid=True, gridcolor="#3a3a3a", gridwidth=1, zeroline=False,
                ticks="outside", ticklen=4, tickcolor="#8c8c8c", tickfont=axis_font, showline=False),
)

fig.write_html("out.html")
